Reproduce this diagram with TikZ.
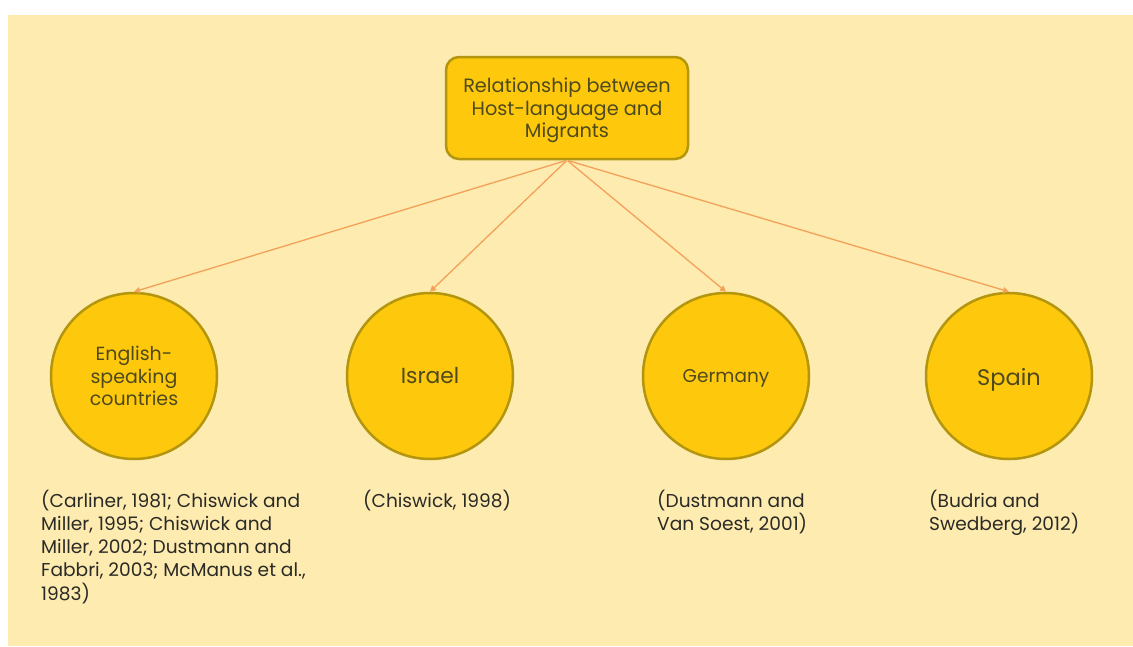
\documentclass[tikz,border=0pt]{standalone}
\usepackage{fontspec}
\setmainfont{Poppins}
\usetikzlibrary{arrows.meta}
\definecolor{bgyellow}{HTML}{FEEBB0}
\definecolor{gold}{HTML}{FEC80C}
\definecolor{goldedge}{HTML}{B4960E}
\definecolor{labeltext}{HTML}{4E4A1E}
\definecolor{citetext}{HTML}{2A2A26}
\definecolor{linkorange}{HTML}{F4A158}
% lower a label inside its node while keeping the node's measured size
\newcommand{\droplabel}[2]{\raisebox{-#1}[\height][\depth]{#2}}
\tikzset{
  x=1pt, y=-1pt,
  topbox/.style={draw=goldedge, line width=2.5pt, fill=gold, rounded corners=13pt,
    minimum width=242pt, minimum height=102pt, inner sep=0pt, align=center,
    text=labeltext, font=\fontsize{19.3}{22.5}\selectfont},
  country/.style={circle, draw=goldedge, line width=2.5pt, fill=gold,
    minimum size=166pt, inner sep=0pt, align=center, text=labeltext},
  cite/.style={anchor=north west, inner sep=0pt, align=left, text=citetext,
    font=\fontsize{18.6}{23.3}\selectfont},
  link/.style={draw=linkorange, line width=1.3pt,
    -{Triangle[width=6pt,length=6pt]}, shorten <=1pt}
}
\begin{document}
\begin{tikzpicture}
  % page and backdrop
  \useasboundingbox (0,0) rectangle (1133,646);
  \fill[white] (0,0) rectangle (1133,646);
  \fill[bgyellow] (8,15) rectangle (1133,646);

  % root topic
  \node[topbox] (root) at (567,108) {\droplabel{2.5pt}{\begin{tabular}{@{}c@{}}Relationship between\\Host-language and\\Migrants\end{tabular}}};

  % countries
  \node[country, font=\fontsize{19}{22.5}\selectfont] (eng) at (134,376) {English-\\speaking\\countries};
  \node[country, font=\fontsize{21.8}{25}\selectfont] (isr) at (430,376) {Israel};
  \node[country, font=\fontsize{18.5}{22.5}\selectfont] (ger) at (726,376) {\droplabel{2.5pt}{Germany}};
  \node[country, font=\fontsize{22.5}{25}\selectfont] (spa) at (1009,376) {\droplabel{3.5pt}{Spain}};

  % links
  \draw[link] (root.south) -- (eng.north);
  \draw[link] (root.south) -- (isr.north);
  \draw[link] (root.south) -- (ger.north);
  \draw[link] (root.south) -- (spa.north);

  % references
  \node[cite] (ceng) at (41,489.5) {(Carliner, 1981; Chiswick and\\Miller, 1995; Chiswick and\\Miller, 2002; Dustmann and\\Fabbri, 2003; McManus et al.,\\1983)};
  \node[cite] (cisr) at (363,489.5) {(Chiswick, 1998)};
  \node[cite] (cger) at (657,489.5) {(Dustmann and\\Van Soest, 2001)};
  \node[cite] (cspa) at (929,489.5) {(Budria and\\Swedberg, 2012)};
\end{tikzpicture}
\end{document}
